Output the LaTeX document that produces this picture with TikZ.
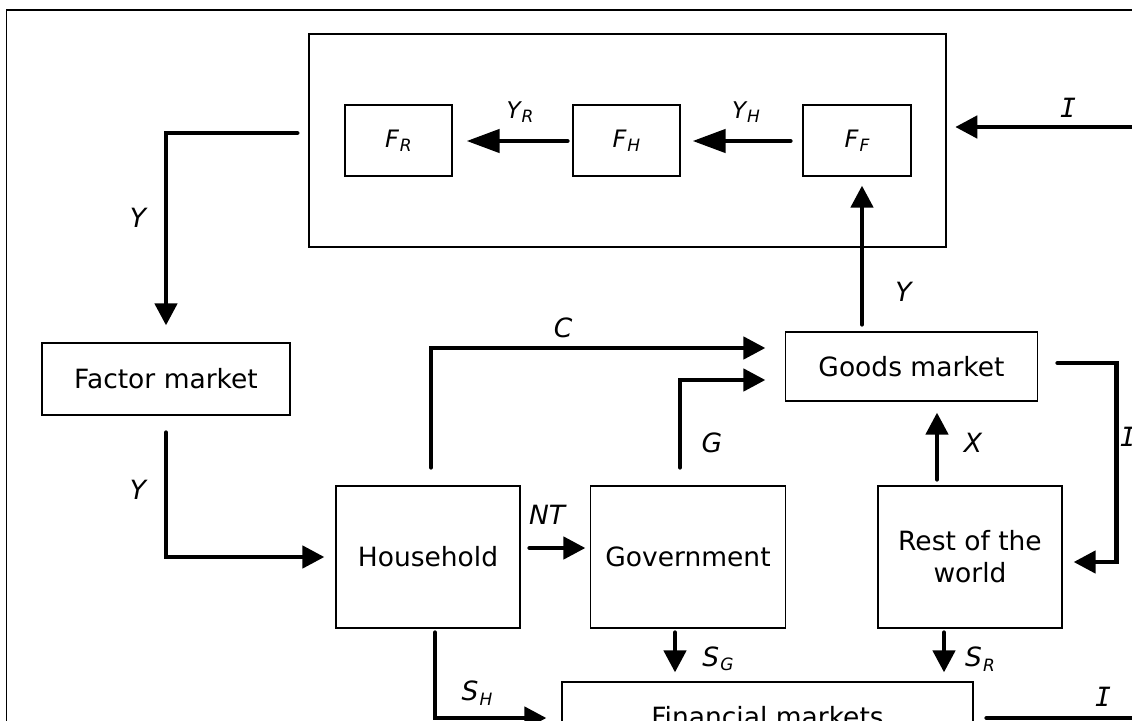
\documentclass[tikz,border=0pt]{standalone}
\usepackage{fontspec}
\setmainfont{DejaVu Sans}
\newfontfamily\monoI{DejaVu Sans Mono}
\usetikzlibrary{arrows.meta,calc}
\newcommand{\lsub}[1]{\kern0.04em\raisebox{-0.17em}{\fontsize{17}{18}\selectfont #1}}
\newcommand{\capI}{{\monoI\itshape I}}
\begin{document}
\begin{tikzpicture}[x=1pt,y=-1pt,
  box/.style={draw, line width=1.2pt, inner sep=0pt, align=center,
    font=\fontsize{26.5}{32}\selectfont},
  firmbox/.style={box, minimum height=71pt, font=\fontsize{24}{26}\selectfont\itshape},
  flow/.style={line width=4.5pt, line cap=round, -{Triangle[length=22pt,width=22pt]}},
  plainflow/.style={line width=4.5pt, line cap=round},
  intflow/.style={line width=4.5pt, line cap=round, -{Triangle[length=33pt,width=23pt]}},
  lab/.style={inner sep=0pt, font=\fontsize{26.5}{30}\selectfont\itshape},
  slab/.style={inner sep=0pt, font=\fontsize{23}{26}\selectfont\itshape}]
\useasboundingbox (0,0) rectangle (1132,720);
\clip (0,0) rectangle (1132,720);
% outer frame
\draw[line width=1.5pt] (6.5,10) rectangle (1160,760);
% firm container and firms
\node[box, line width=1.5pt, minimum width=637pt, minimum height=213pt] (firms) at (627.5,140.5) {};
\node[firmbox, minimum width=107pt] (FR) at (398.5,140.5) {F\lsub{R}};
\node[firmbox, minimum width=107pt] (FH) at (626.5,140.5) {F\lsub{H}};
\node[firmbox, minimum width=108pt] (FF) at (857,140.5) {F\lsub{F}};
% markets and sectors
\node[box, minimum width=248pt, minimum height=72pt] (factor) at (166,379) {Factor market};
\node[box, minimum width=184pt, minimum height=142pt] (house) at (428,557) {Household};
\node[box, minimum width=252pt, minimum height=69pt] (goods) at (911.5,366.5) {Goods market};
\node[box, minimum width=195pt, minimum height=142pt] (gov) at (688,557) {Government};
\node[box, minimum width=184pt, minimum height=142pt] (row) at (970,557) {Rest of the\\world};
\node[box, minimum width=411pt, minimum height=70pt] (fin) at (767.5,717) {Financial markets};
% off-picture ends
\coordinate (Itopsrc) at (1160,127);
\coordinate (Ibotdst) at (1160,718);
% connectors inside firm container
\draw[intflow] ($(FF.west)+(-12,0.5)$) -- ($(FH.east)+(12,0.5)$);
\draw[intflow] ($(FH.west)+(-5,0.5)$) -- ($(FR.east)+(14,0.5)$);
\node[slab] (lYH) at (746,112) {Y\lsub{H}};
\node[slab] (lYR) at (520,112) {Y\lsub{R}};
% I into firms
\draw[flow] (Itopsrc) -- ($(firms.east)+(8.5,-13.5)$);
\node[lab] (lI1) at (1068,108) {\capI};
% firms -> factor market
\draw[flow] ($(firms.west)+(-11,-7.5)$) -| ($(factor.north)+(0,-17)$);
\node[lab] (lY1) at (138,218) {Y};
% factor market -> household
\draw[flow] ($(factor.south)+(0,17)$) |- ($(house.west)+(-11,0)$);
\node[lab] (lY2) at (138,490) {Y};
% household -> goods (C)
\draw[flow] ($(house.north)+(3,-18)$) |- ($(goods.west)+(-19.5,-18.5)$);
\node[lab] (lC) at (563,328) {C};
% government -> goods (G)
\draw[flow] ($(gov.north)+(-8,-18)$) |- ($(goods.west)+(-19.5,13.5)$);
\node[lab] (lG) at (712,443) {G};
% goods -> F_F (Y)
\draw[flow] ($(goods.north)+(-49.5,-7)$) -- ($(FF.south)+(5,9)$);
\node[lab] (lY3) at (903.5,292) {Y};
% household -> government (NT)
\draw[flow] ($(house.east)+(9,-9)$) -- ($(gov.west)+(-4.5,-9)$);
\node[lab] (lNT) at (547,515) {NT};
% rest of world -> goods (X)
\draw[flow] ($(row.north)+(-33,-6)$) -- ($(goods.south)+(25.5,11)$);
\node[lab] (lX) at (973,443) {X};
% goods -> rest of world (I)
\draw[flow] ($(goods.east)+(19.5,-3.5)$) -| ($(row.east)+(54,5)$) -- ($(row.east)+(11,5)$);
\node[lab] (lI2) at (1128,437) {\capI};
% savings
\draw[flow] ($(gov.south)+(-13,4)$) -- ($(fin.north)+(-92.5,-9)$);
\node[lab] (lSG) at (718,659) {S\lsub{G}};
\draw[flow] ($(row.south)+(-26,4)$) -- ($(fin.north)+(176.5,-9)$);
\node[lab] (lSR) at (980,659) {S\lsub{R}};
\draw[flow] ($(house.south)+(7,4)$) |- ($(fin.west)+(-15,1)$);
\node[lab] (lSH) at (477,693) {S\lsub{H}};
% financial markets -> off picture (I)
\draw[plainflow] ($(fin.east)+(13,1)$) -- (Ibotdst);
\node[lab] (lI3) at (1103,697) {\capI};
\end{tikzpicture}
\end{document}
